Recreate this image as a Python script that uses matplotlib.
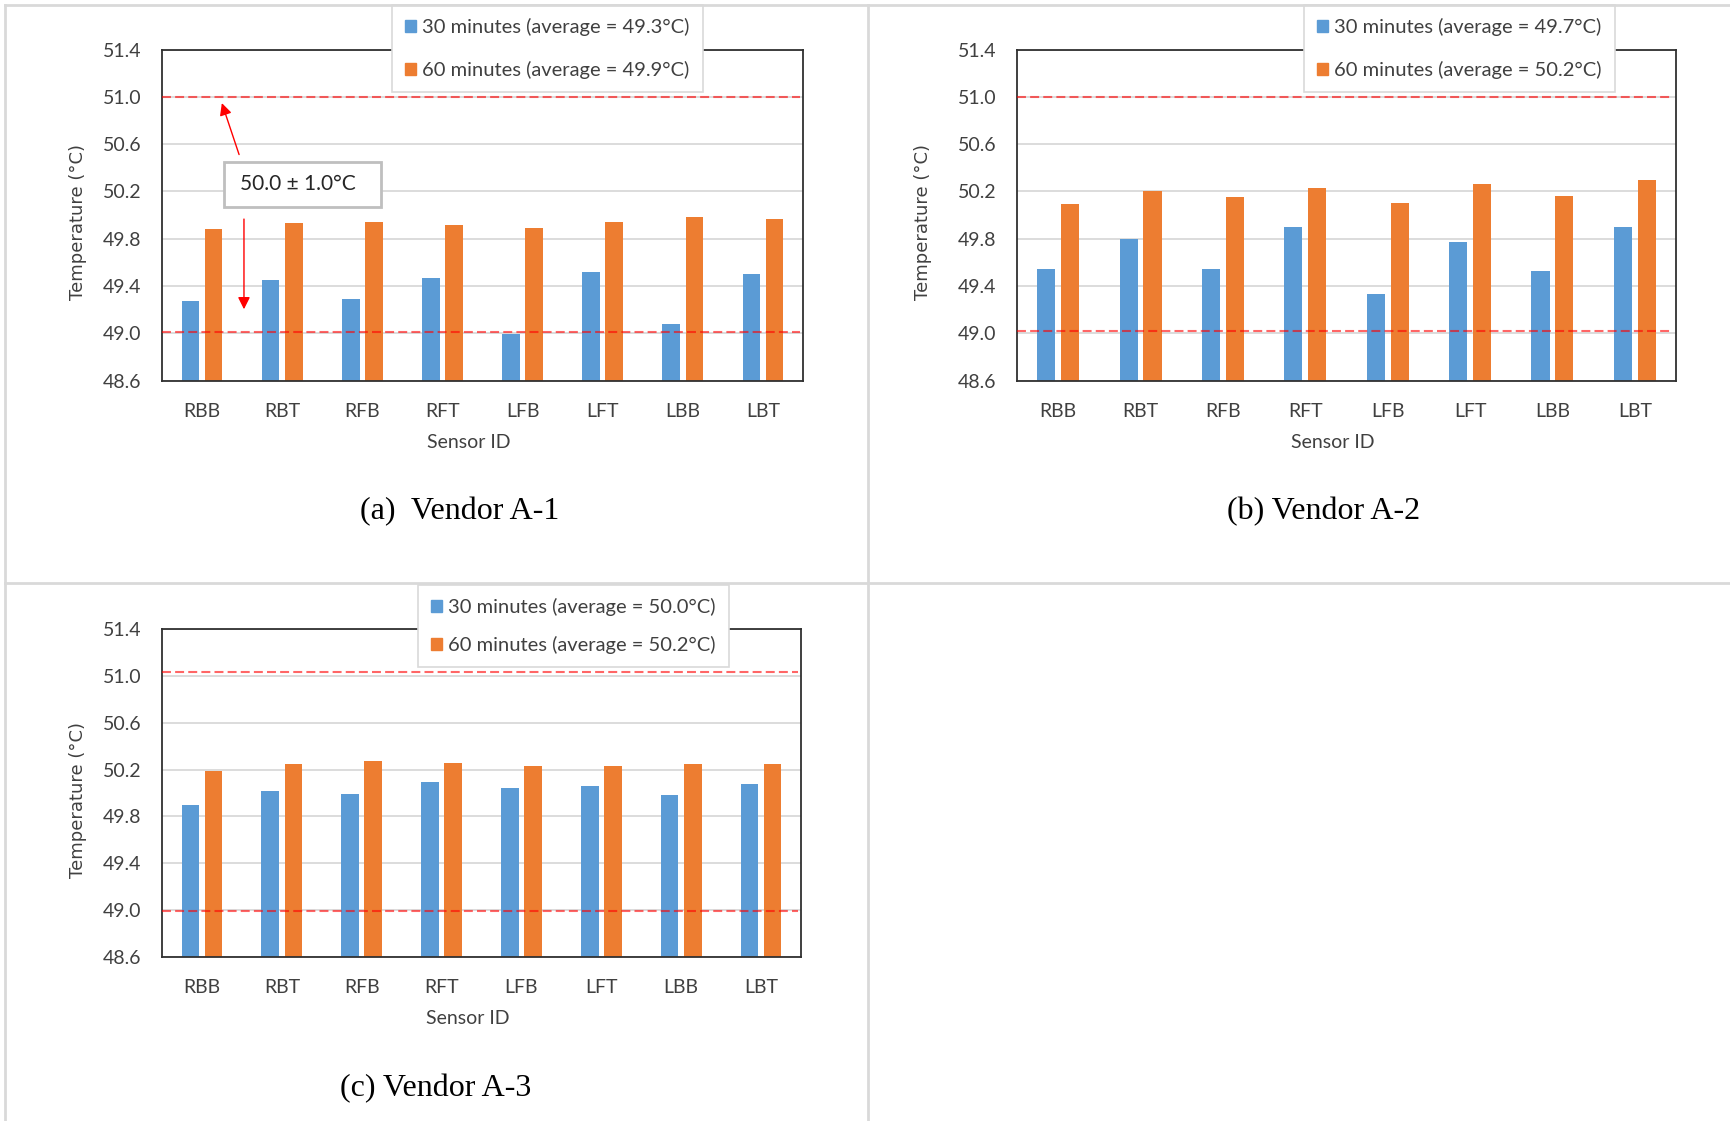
import numpy as np
import matplotlib.pyplot as plt
from matplotlib.lines import Line2D
from matplotlib.patches import Rectangle, Patch

plt.rcParams['font.family'] = ['Lato', 'DejaVu Sans']

# data
sensors = ['RBB', 'RBT', 'RFB', 'RFT', 'LFB', 'LFT', 'LBB', 'LBT']

a_30 = [49.27, 49.45, 49.29, 49.47, 48.99, 49.52, 49.08, 49.50]
a_60 = [49.88, 49.93, 49.94, 49.92, 49.89, 49.94, 49.98, 49.97]
b_30 = [49.54, 49.80, 49.54, 49.90, 49.33, 49.77, 49.53, 49.90]
b_60 = [50.09, 50.20, 50.15, 50.23, 50.10, 50.26, 50.16, 50.30]
c_30 = [49.90, 50.02, 49.99, 50.09, 50.04, 50.06, 49.98, 50.08]
c_60 = [50.19, 50.25, 50.27, 50.26, 50.23, 50.23, 50.25, 50.25]

avg_30 = ['49.3', '49.7', '50.0']
avg_60 = ['49.9', '50.2', '50.2']
upper_lim = [51.0, 51.0, 51.03]
lower_lim = [49.01, 49.02, 48.99]
captions = ['(a)  Vendor A-1', '(b) Vendor A-2', '(c) Vendor A-3']
yticks = [48.6, 49.0, 49.4, 49.8, 50.2, 50.6, 51.0, 51.4]

BLUE = '#5B9BD5'
ORANGE = '#ED7D31'
TXT = '#404040'

W, H = 1730, 1121
fig = plt.figure(figsize=(W / 100, H / 100), dpi=100)


def px_rect(l, t, r, b):
    return [l / W, 1 - b / H, (r - l) / W, (b - t) / H]


# layout in pixels of the full image
ax_boxes = [(162, 49.6, 803, 380.6), (1017, 49.6, 1676, 380.6), (162, 629, 801, 957)]
leg_anchor = [(392, 5), (1304, 5), (418, 585)]
leg_spacing = [1.25, 1.25, 1.0]
cap_pos = [(460, 512), (1324, 512), (436, 1089)]
ylabel_x = [-0.117, -0.129, -0.117]

series_30 = [a_30, b_30, c_30]
series_60 = [a_60, b_60, c_60]

x = np.arange(len(sensors))
bw = 0.22

axes = []
for i in range(3):
    ax = fig.add_axes(px_rect(*ax_boxes[i]))
    axes.append(ax)
    ax.bar(x - 0.145, series_30[i], bw, color=BLUE, zorder=2)
    ax.bar(x + 0.145, series_60[i], bw, color=ORANGE, zorder=2)
    ax.set_ylim(48.6, 51.4)
    ax.set_xlim(-0.5, 7.5)
    ax.set_yticks(yticks)
    ax.set_yticklabels(['%.1f' % t for t in yticks])
    ax.set_xticks(x)
    ax.set_xticklabels(sensors)
    ax.set_axisbelow(True)
    ax.yaxis.grid(True, color='#D9D9D9', lw=1.3)
    ax.tick_params(length=0, labelsize=14, labelcolor=TXT)
    ax.tick_params(axis='y', pad=15)
    ax.tick_params(axis='x', pad=16)
    for s in ax.spines.values():
        s.set_color('#303030')
        s.set_linewidth(1.3)
    ax.set_xlabel('Sensor ID', fontsize=14, color=TXT)
    ax.xaxis.set_label_coords(0.479, -0.162)
    ax.set_ylabel('Temperature (°C)', fontsize=13, color=TXT,
                  family='DejaVu Sans')
    ax.yaxis.set_label_coords(ylabel_x[i], 0.48)

    for yl in (upper_lim[i], lower_lim[i]):
        ax.axhline(yl, xmin=0.0, xmax=0.995, color='red', alpha=0.6,
                   lw=1.5, ls=(0, (4.3, 2)), zorder=4)

    handles = [Patch(color=BLUE), Patch(color=ORANGE)]
    labels = ['30 minutes (average = %s°C)' % avg_30[i],
              '60 minutes (average = %s°C)' % avg_60[i]]
    lx, ly = leg_anchor[i]
    leg = ax.legend(handles, labels, loc='upper left',
                    bbox_to_anchor=(lx / W, 1 - ly / H),
                    bbox_transform=fig.transFigure, fancybox=False,
                    edgecolor='#D9D9D9', framealpha=1, fontsize=14.5,
                    handlelength=0.55, handleheight=0.55, handletextpad=0.3,
                    labelspacing=leg_spacing[i], borderpad=0.65,
                    borderaxespad=0)
    leg.get_frame().set_linewidth(1.2)
    for t in leg.get_texts():
        t.set_color(TXT)

    cx, cy = cap_pos[i]
    fig.text(cx / W, 1 - cy / H, captions[i], ha='center', va='center',
             fontsize=23, family='Liberation Serif', color='black')

# tolerance note on panel (a)
ax = axes[0]
ax.add_patch(Rectangle((0.273, 50.068), 1.96, 0.381, fc='white',
                       ec='#BFBFBF', lw=2, zorder=5))
ax.text(1.20, 50.26, '50.0 ± 1.0°C', ha='center', va='center',
        fontsize=15, color='#262626', zorder=6)
ax.annotate('', xy=(0.236, 50.97), xytext=(0.473, 50.49),
            arrowprops=dict(arrowstyle='-|>', color='red', lw=1,
                            mutation_scale=18), zorder=6)
ax.annotate('', xy=(0.523, 49.18), xytext=(0.523, 49.99),
            arrowprops=dict(arrowstyle='-|>', color='red', lw=1,
                            mutation_scale=18), zorder=6)

# table borders around the panels
border = '#D9D9D9'
for (x0, y0, x1, y1) in [(5, 5, W, 5), (5, 5, 5, H), (868, 5, 868, H),
                         (5, 583, W, 583)]:
    fig.add_artist(Line2D([x0 / W, x1 / W], [1 - y0 / H, 1 - y1 / H],
                          color=border, lw=2))

fig.savefig('out.png', dpi=100)
